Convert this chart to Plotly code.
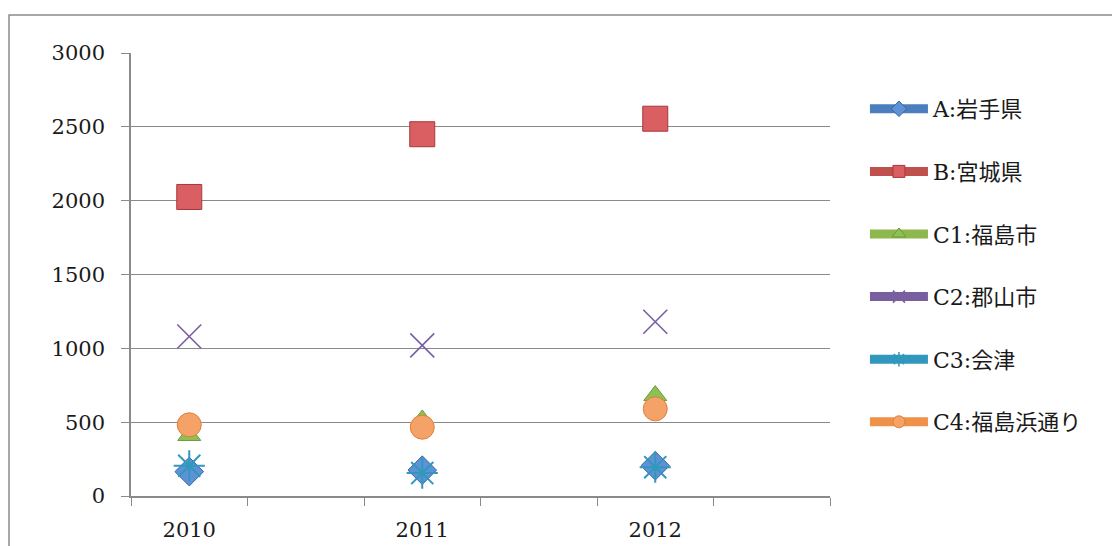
import plotly.graph_objects as go

years = ["2010", "2011", "2012"]
series_names = ["A:岩手県", "B:宮城県", "C1:福島市", "C2:郡山市", "C3:会津", "C4:福島浜通り"]
a_vals = [165, 175, 205]
b_vals = [2025, 2450, 2555]
c1_vals = [410, 515, 680]
c2_vals = [1080, 1020, 1180]
c3_vals = [205, 155, 195]
c4_vals = [482, 466, 590]
y_ticks = [0, 500, 1000, 1500, 2000, 2500, 3000]

# each year occupies every other slot of a six-slot category axis
x_pos = [2 * i for i in range(len(years))]

values = [a_vals, b_vals, c1_vals, c2_vals, c3_vals, c4_vals]
colors = ["#4A7EBE", "#C0504D", "#8DB84E", "#7A5FA0", "#2F98BC", "#F0914A"]
fills = ["#5E92D4", "#DA5F62", "#8DC055", "#7A5FA0", "#2F98BC", "#F5A268"]
edges = ["#3565A5", "#A8383A", "#6E9A3A", "#6A508C", "#2A8EAE", "#DE8038"]
symbols = ["diamond", "square", "triangle-up", "x-thin-open", "asterisk-open", "circle"]
sizes = [22, 25, 20, 24, 26, 24]
widths = [1, 1, 1, 1.6, 2, 1]

FONT = "DejaVu Serif, Noto Sans CJK JP, serif"
TXT = "#1a1a1a"

fig = go.Figure()
for i, name in enumerate(series_names):
    openm = "open" in symbols[i]
    fig.add_trace(go.Scatter(
        x=x_pos, y=values[i], mode="markers", name=name, showlegend=False,
        customdata=years,
        marker=dict(symbol=symbols[i], size=sizes[i], color=fills[i],
                    line=dict(color=colors[i] if openm else edges[i], width=widths[i])),
        hovertemplate="%{customdata}: %{y}<extra>" + name + "</extra>",
    ))
for i, name in enumerate(series_names):
    openm = "open" in symbols[i]
    fig.add_trace(go.Scatter(
        x=[None], y=[None], mode="lines+markers", name=name, legendgroup=name,
        line=dict(color=colors[i], width=9),
        marker=dict(symbol=symbols[i], size=12, color=fills[i],
                    line=dict(color=colors[i] if openm else edges[i],
                              width=1.5 if openm else 1)),
    ))

fig.update_layout(
    width=1120, height=546,
    margin=dict(l=123, r=298, t=45, b=58),
    paper_bgcolor="white", plot_bgcolor="white",
    font=dict(family=FONT, size=22, color=TXT),
    legend=dict(x=1.05, y=0.921, xanchor="left", yanchor="top",
                font=dict(family=FONT, size=22, color=TXT),
                tracegroupgap=31, itemwidth=58, bgcolor="rgba(0,0,0,0)"),
    shapes=[dict(type="rect", xref="paper", yref="paper",
                 x0=-0.1745, x1=1.6, y0=-0.3, y1=1.086,
                 line=dict(color="#8a8a8a", width=1.5), layer="below")],
)
fig.update_xaxes(
    range=[-0.5, 2 * len(years) - 0.5], automargin=False,
    tickmode="array", tickvals=x_pos, ticktext=years, ticks="",
    minor=dict(tickmode="linear", tick0=-0.5, dtick=1, ticks="outside",
               ticklen=8, tickcolor="#8a8a8a", showgrid=False),
    showgrid=False, zeroline=False, showline=True, linecolor="#8a8a8a", linewidth=1.5,
    ticklabelstandoff=14,
    tickfont=dict(family=FONT, size=21, color=TXT),
)
fig.update_yaxes(
    range=[0, 3000], tickvals=y_ticks, ticks="outside", ticklen=8, tickcolor="#8a8a8a",
    showgrid=True, gridcolor="#8a8a8a", gridwidth=1.2, automargin=False,
    showline=True, linecolor="#8a8a8a", linewidth=1.5, zeroline=False,
    ticklabelstandoff=12,
    tickfont=dict(family=FONT, size=21, color=TXT),
)

fig.write_html("out.html")
